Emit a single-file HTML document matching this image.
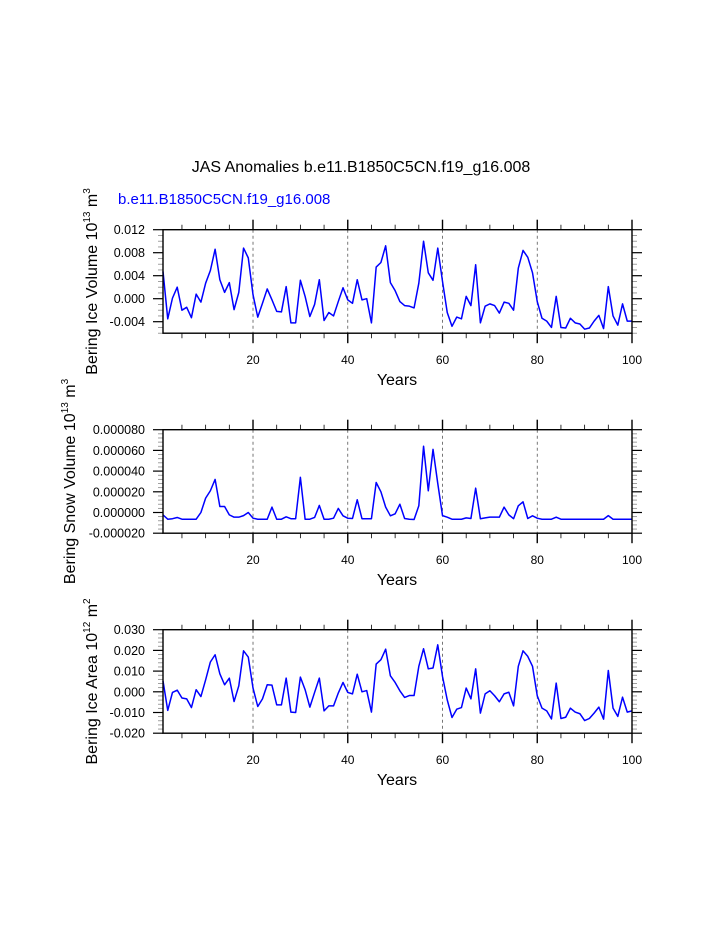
<!DOCTYPE html>
<html><head><meta charset="utf-8"><style>
html,body{margin:0;padding:0;background:#fff;}
svg{display:block;font-family:"Liberation Sans",Arial,sans-serif;}
</style></head><body>
<svg id="chart" width="723" height="935" xmlns="http://www.w3.org/2000/svg">
<text x="361" y="172" font-size="16" text-anchor="middle">JAS Anomalies b.e11.B1850C5CN.f19_g16.008</text>
<text x="118" y="204" font-size="15" fill="#0000ff">b.e11.B1850C5CN.f19_g16.008</text>
</svg>
<script>
const years = Array.from({length:100},(_, i)=>i+1);
const iceVolume = [0.00475,-0.0035,0.0001,0.002,-0.002,-0.0015,-0.0033,0.0008,-0.0006,0.0027,0.0049,0.0086,0.0033,0.0011,0.0028,-0.0019,0.0011,0.0088,0.0071,0.0007,-0.0032,-0.0008,0.0017,-0.0002,-0.0022,-0.0023,0.0021,-0.0042,-0.0042,0.0032,0.0004,-0.0031,-0.001,0.0033,-0.0038,-0.0024,-0.003,-0.0005,0.0019,-0.0002,-0.0008,0.0033,-0.0002,0,-0.0042,0.0055,0.0063,0.0092,0.0028,0.0014,-0.0005,-0.0012,-0.0013,-0.0016,0.0027,0.01,0.0045,0.0032,0.0088,0.003,-0.0024,-0.0048,-0.0032,-0.0035,0.0004,-0.0012,0.0059,-0.0042,-0.0013,-0.0009,-0.0012,-0.0025,-0.0006,-0.0008,-0.002,0.0053,0.0084,0.0072,0.0045,-0.0005,-0.0034,-0.0039,-0.005,0.0004,-0.005,-0.0051,-0.0034,-0.0042,-0.0044,-0.0053,-0.0051,-0.0039,-0.0029,-0.0052,0.0021,-0.003,-0.0046,-0.0009,-0.0039,-0.0039];
const snowVolumeE6 = [-2.3,-6.5,-6,-4.8,-6.5,-6.5,-6.5,-6.5,0,13.9,21,32,5.8,5.8,-2.3,-4.5,-4.5,-3,0,-5.5,-6.5,-6.5,-6.5,5.2,-6.5,-6.5,-4.2,-6,-6,34,-6.5,-6.5,-4.8,6.8,-6.5,-6.5,-5.5,3.9,-3.2,-5.5,-5.8,12.3,-6,-6,-6,29,20,5.2,-3.2,-1.3,8,-5.8,-6.5,-6.8,6.5,64,21,61,28,-3,-4.5,-6.5,-6.5,-6.5,-5.2,-5.8,23.5,-6,-5.2,-4.5,-4.5,-4.5,5.2,-2.3,-6,6.5,10.3,-5.8,-3.2,-5.5,-6.5,-6.5,-6.5,-4.5,-6.5,-6.5,-6.5,-6.5,-6.5,-6.5,-6.5,-6.5,-6.5,-6.5,-3,-6.5,-6.5,-6.5,-6.5,-6.5];
const iceAreaE3 = [5.3,-9,-0.3,0.8,-3,-3.4,-7.6,1,-2.3,5.8,14.4,17.9,8.7,3.4,6.6,-4.7,2.9,19.8,16.8,1.8,-7.1,-3.4,3.4,3.2,-6.3,-6.3,6.6,-9.8,-10,7.1,1,-7.4,-0.3,6.6,-9.2,-6.8,-6.8,-0.6,4.5,-0.3,-1,8.5,0,0.6,-9.8,13.4,15.5,20.6,7.7,4.5,0.5,-2.7,-1.8,-1.8,12.3,20.8,11.1,11.5,22.7,7.4,-3.9,-12.4,-8.4,-7.6,1.8,-3.4,11.1,-10.3,-1,0.5,-1.9,-4.8,-1,-0.2,-6.8,12.3,19.8,17.1,12.3,-1.9,-7.9,-9.2,-13.1,4.2,-12.9,-12.3,-7.9,-9.8,-10.6,-13.9,-12.9,-10.3,-7.4,-13.2,10.3,-7.9,-11.9,-2.6,-9.8,-9.2];
const xTicks = [20,40,60,80,100];
const ticks1 = [-0.004,0,0.004,0.008,0.012];
const ticks2 = [-0.00002,0,0.00002,0.00004,0.00006,0.00008];
const ticks3 = [-0.02,-0.01,0,0.01,0.02,0.03];

const NS="http://www.w3.org/2000/svg";
const svg=document.getElementById('chart');
function mk(tag,attrs,parent){const e=document.createElementNS(NS,tag);for(const k in attrs)e.setAttribute(k,attrs[k]);(parent||svg).appendChild(e);return e;}
const X0=163,X1=632;
function xs(v){return X0+(v-1)/99*(X1-X0);}

function panel(cfg){
  const g=mk('g',{});
  
  
  const T=cfg.top,B=cfg.top+103.5;
  const ys=v=>B-(v-cfg.min)/(cfg.max-cfg.min)*(B-T);
  // grid
  [20,40,60,80].forEach(v=>{const l=mk('line',{x1:xs(v),x2:xs(v),y1:T,y2:B,stroke:'#555','stroke-width':0.8,'stroke-dasharray':'3,3'},g);
    
    });
  // minor x ticks
  for(let v=5;v<=100;v+=5){const maj=v%20===0;const L=maj?10:5;
    mk('line',{x1:xs(v),x2:xs(v),y1:B,y2:B+L,stroke:'#000','stroke-width':maj?1.4:0.8},g);
    mk('line',{x1:xs(v),x2:xs(v),y1:T,y2:T-L,stroke:'#000','stroke-width':maj?1.4:0.8},g);}
  xTicks.forEach(v=>{const t=mk('text',{x:xs(v),y:B+31,'font-size':12,'text-anchor':'middle'},g);t.textContent=v;
    
    });
  // y ticks
  const step=cfg.minor;
  for(let v=cfg.min;v<=cfg.max+step/2;v+=step){const y=ys(v);
    const maj=cfg.ticks.some(t=>Math.abs(t-v)<step/3);const L=maj?10:5;
    mk('line',{x1:X0,x2:X0-L,y1:y,y2:y,stroke:maj?'#000':'#888','stroke-width':maj?1.2:0.8},g);
    mk('line',{x1:X1,x2:X1+L,y1:y,y2:y,stroke:maj?'#000':'#888','stroke-width':maj?1.2:0.8},g);}
  cfg.ticks.forEach(v=>{const t=mk('text',{x:145,y:ys(v)+4.5,'font-size':12.5,'text-anchor':'end'},g);t.textContent=v.toFixed(cfg.dec);
    
    });
  // line
  const pts=years.map((yr,i)=>xs(yr).toFixed(2)+','+ys(cfg.data[i]*cfg.scale).toFixed(2)).join(' ');
  const pl=mk('polyline',{points:pts,fill:'none',stroke:'#0000ff','stroke-width':1.5,'stroke-linejoin':'round'},g);
  
  
  const fr=mk('rect',{x:X0,y:T,width:X1-X0,height:B-T,fill:'none',stroke:'#000','stroke-width':1.4},g);
  
  
  const xt=mk('text',{x:397,y:B+52,'font-size':16,'text-anchor':'middle'},g);xt.textContent='Years';
  
  
  const cy=(T+B)/2;
  const yt=mk('text',{x:0,y:0,'font-size':16,'text-anchor':'middle',transform:`translate(${cfg.lx},${cy}) rotate(-90)`},g);
  
  
  yt.appendChild(document.createTextNode(cfg.label+' 10'));
  const s=mk('tspan',{'font-size':10,dy:-7},yt);s.textContent=cfg.exp;
  const m=mk('tspan',{dy:7},yt);m.textContent=' m';
  const s2=mk('tspan',{'font-size':10,dy:-7},yt);s2.textContent=cfg.unitExp;
}
panel({name:'ice-volume-panel',top:229.7,min:-0.006,max:0.012,minor:0.001,ticks:ticks1,dec:3,data:iceVolume,scale:1,lx:97,label:'Bering Ice Volume',exp:'13',unitExp:'3'});
panel({name:'snow-volume-panel',top:429.7,min:-0.00002,max:0.00008,minor:0.000004,ticks:ticks2,dec:6,data:snowVolumeE6,scale:1e-6,lx:75,label:'Bering Snow Volume',exp:'13',unitExp:'3'});
panel({name:'ice-area-panel',top:629.7,min:-0.02,max:0.03,minor:0.002,ticks:ticks3,dec:3,data:iceAreaE3,scale:1e-3,lx:97,label:'Bering Ice Area',exp:'12',unitExp:'2'});
</script>
</body></html>
